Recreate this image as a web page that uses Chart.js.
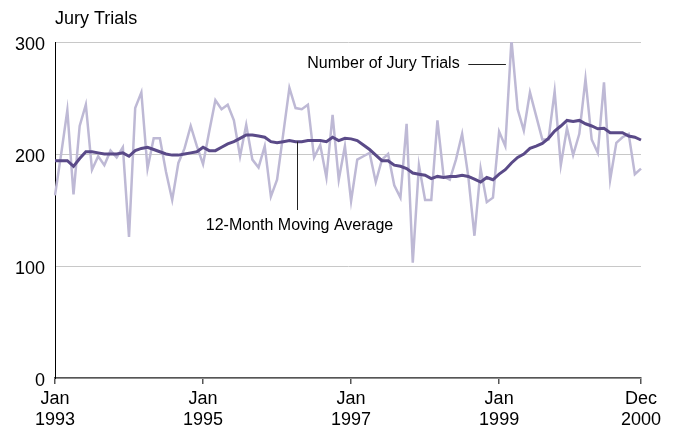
<!DOCTYPE html>
<html>
<head>
<meta charset="utf-8">
<script src="https://cdn.jsdelivr.net/npm/chart.js@4.4.0/dist/chart.umd.min.js"></script>
<style>
html, body { margin: 0; padding: 0; background: #fff; }
</style>
</head>
<body>
<canvas id="grafica" width="673" height="431"></canvas>
<script>
// months Jan 1993 - Dec 2000
let anios = [1993, 1994, 1995, 1996, 1997, 1998, 1999, 2000];
let meses = ['Jan', 'Feb', 'Mar', 'Apr', 'May', 'Jun', 'Jul', 'Aug', 'Sep', 'Oct', 'Nov', 'Dec'];
let etiquetas = [];
anios.forEach(a => meses.forEach(m => etiquetas.push(m + ' ' + a)));

// number of jury trials per month
let juicios = [
  163, 200, 239, 164, 225, 244, 186, 198, 190, 203, 197, 206,
  126, 241, 255, 187, 214, 214, 184, 159, 192, 205, 225, 207,
  191, 220, 248, 240, 244, 230, 198, 226, 195, 188, 207, 162,
  177, 218, 259, 241, 240, 244, 197, 208, 179, 235, 177, 207,
  158, 195, 198, 201, 175, 195, 200, 172, 161, 227, 103, 190,
  159, 159, 230, 180, 177, 195, 218, 180, 127, 187, 157, 161,
  220, 207, 302, 240, 221, 255, 234, 213, 213, 256, 190, 223,
  199, 218, 267, 213, 201, 264, 177, 210, 215, 218, 182, 187
];

// 12-month moving average
let promedio = [
  194, 194, 194, 189, 196, 202, 202, 201, 200, 200, 200, 201,
  198, 203, 205, 206, 204, 202, 200, 199, 199, 200, 201, 202,
  206, 203, 203, 206, 209, 211, 214, 217, 217, 216, 215, 211,
  210, 211, 212, 211, 211, 212, 212, 212, 211, 215, 212, 214,
  213.5, 212, 208, 204, 199, 194, 194, 190, 189, 187, 183, 182,
  181, 178, 180, 179, 180, 180, 181, 180, 177.5, 175, 179, 177,
  182, 186, 192, 197, 200, 205, 207, 209.5, 214, 220.5, 225, 230,
  229, 230, 227, 225, 222.5, 223, 219, 219, 219, 216, 215, 212.5
];

// axis ticks
let tickIndex = [0, 24, 48, 72, 95];
let tickText = [['Jan', '1993'], ['Jan', '1995'], ['Jan', '1997'], ['Jan', '1999'], ['Dec', '2000']];
let yTicks = [0, 100, 200, 300];

let fuente = '"Liberation Sans", Arial, sans-serif';

const notas = {
  id: 'notas',
  afterDraw(chart) {
    let ctx = chart.ctx;
    let sx = chart.scales.x, sy = chart.scales.y;
    ctx.save();
    ctx.fillStyle = '#000';
    ctx.textBaseline = 'alphabetic';

    // axis title
    ctx.font = '18px ' + fuente;
    ctx.textAlign = 'left';
    ctx.fillText('Jury Trials', chart.chartArea.left, 23.5);

    ctx.font = '16px ' + fuente;
    ctx.strokeStyle = '#222';
    ctx.lineWidth = 1;

    // moving average pointer
    let px = Math.round(sx.getPixelForValue(39.2)) + 0.5;
    ctx.beginPath();
    ctx.moveTo(px, sy.getPixelForValue(promedio[39]));
    ctx.lineTo(px, sy.getPixelForValue(150));
    ctx.stroke();
    ctx.textAlign = 'center';
    ctx.fillText('12-Month Moving Average', px + 2, sy.getPixelForValue(132.3));

    // raw series label
    let ly = Math.round(sy.getPixelForValue(280.6)) + 0.5;
    ctx.beginPath();
    ctx.moveTo(sx.getPixelForValue(67), ly);
    ctx.lineTo(sx.getPixelForValue(73.1), ly);
    ctx.stroke();
    ctx.textAlign = 'right';
    ctx.fillText('Number of Jury Trials', sx.getPixelForValue(65.6), sy.getPixelForValue(277));
    ctx.restore();
  }
};

let grafica = document.getElementById('grafica').getContext('2d');
let chart = new Chart(grafica, {
  type: 'line',
  data: {
    labels: etiquetas,
    datasets: [
      {
        label: 'Number of Jury Trials',
        data: juicios,
        borderColor: 'rgb(190, 185, 213)',
        borderWidth: 2.5,
        pointRadius: 0,
        tension: 0,
        order: 2
      },
      {
        label: '12-Month Moving Average',
        data: promedio,
        borderColor: 'rgb(90, 74, 136)',
        borderWidth: 3,
        pointRadius: 0,
        tension: 0,
        order: 1
      }
    ]
  },
  options: {
    responsive: false,
    animation: false,
    devicePixelRatio: 1,
    layout: { padding: { top: 42, right: 32, left: 0, bottom: 0 } },
    plugins: {
      legend: { display: false },
      tooltip: { enabled: false }
    },
    scales: {
      x: {
        type: 'category',
        offset: false,
        afterBuildTicks: s => { s.ticks = tickIndex.map(v => ({ value: v })); },
        afterFit: s => { s.height = 53; },
        grid: { drawOnChartArea: false, drawTicks: true, tickLength: 6, color: '#555', lineWidth: 1.5 },
        border: { color: '#555', width: 1.5 },
        ticks: {
          autoSkip: false,
          maxRotation: 0,
          padding: 4,
          color: '#000',
          font: { family: fuente, size: 18 },
          callback: function(v) { return tickText[tickIndex.indexOf(v)]; }
        }
      },
      y: {
        min: 0,
        max: 300,
        afterBuildTicks: s => { s.ticks = yTicks.map(v => ({ value: v })); },
        afterFit: s => { s.width = 55; },
        grid: { color: '#c8c8c8', lineWidth: 1, drawTicks: false },
        border: { color: '#000', width: 1 },
        ticks: {
          padding: 10,
          labelOffset: 3,
          color: '#000',
          font: { family: fuente, size: 18 }
        }
      }
    }
  },
  plugins: [notas]
});
</script>
</body>
</html>
